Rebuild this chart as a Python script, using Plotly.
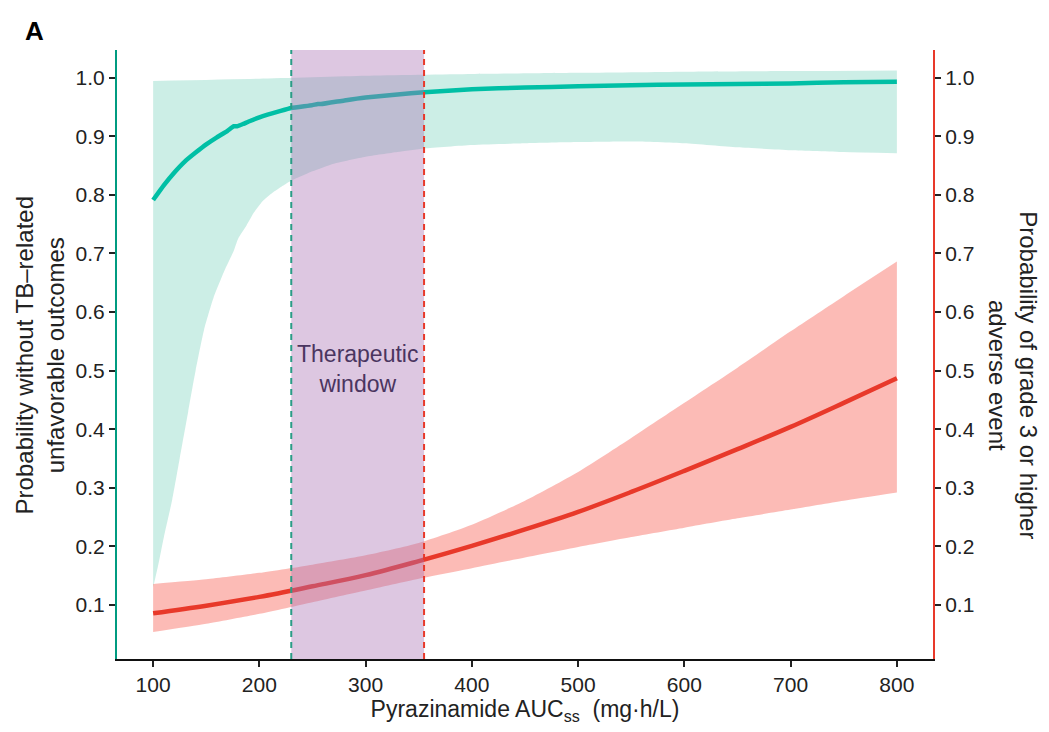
import plotly.graph_objects as go

# ---- data ----
teal_x = [100, 110, 120, 130, 140, 150, 160, 170, 176, 179, 185, 190, 200, 220, 230, 250, 255, 258,
          280, 300, 330, 355, 400, 450, 500, 550, 600, 650, 700, 750, 800]
teal_y = [0.791, 0.816, 0.838, 0.857, 0.872, 0.886, 0.898, 0.909, 0.917, 0.9168, 0.921, 0.925, 0.932,
          0.943, 0.948, 0.953, 0.955, 0.9547, 0.961, 0.966, 0.971, 0.975, 0.980, 0.983, 0.985, 0.987,
          0.988, 0.989, 0.990, 0.992, 0.993]

teal_up_x = [100, 200, 300, 400, 500, 600, 700, 800]
teal_up = [0.994, 0.998, 1.003, 1.006, 1.008, 1.010, 1.011, 1.012]

teal_lo_x = [100, 105, 110, 118, 125, 133, 140, 148, 157, 167, 176, 180, 188, 195, 203, 212, 221,
             229, 250, 270, 300, 330, 355, 400, 450, 500, 550, 600, 650, 700, 750, 800]
teal_lo = [0.13, 0.17, 0.215, 0.28, 0.35, 0.43, 0.50, 0.57, 0.625, 0.67, 0.705, 0.725, 0.748,
           0.77, 0.789, 0.803, 0.814, 0.823, 0.840, 0.853, 0.865, 0.873, 0.879, 0.885, 0.888, 0.890,
           0.891, 0.888, 0.881, 0.876, 0.873, 0.871]

red_x = [100, 150, 200, 250, 300, 350, 400, 450, 500, 550, 600, 650, 700, 750, 800]
red_y = [0.086, 0.099, 0.114, 0.132, 0.151, 0.175, 0.201, 0.229, 0.259, 0.293, 0.329, 0.366, 0.404,
         0.445, 0.487]
red_up = [0.136, 0.144, 0.155, 0.169, 0.185, 0.206, 0.237, 0.278, 0.327, 0.385, 0.445, 0.505, 0.567,
          0.627, 0.686]
red_lo = [0.054, 0.068, 0.085, 0.105, 0.125, 0.145, 0.163, 0.181, 0.199, 0.216, 0.232, 0.248, 0.263,
          0.278, 0.292]

window_lo = 230
window_hi = 355
x_ticks = [100, 200, 300, 400, 500, 600, 700, 800]
y_ticks = [0.1, 0.2, 0.3, 0.4, 0.5, 0.6, 0.7, 0.8, 0.9, 1.0]

TEAL = "#00BFA5"
TEAL_AX = "#009B80"
RED = "#E8392A"
FONT = "Liberation Sans, Arial, sans-serif"

fig = go.Figure()

# teal band (lower edge, then upper edge filled down to it)
fig.add_trace(go.Scatter(x=teal_lo_x, y=teal_lo, mode="lines",
                         line=dict(width=0, shape="spline", smoothing=0.5),
                         showlegend=False, hoverinfo="skip"))
fig.add_trace(go.Scatter(x=teal_up_x, y=teal_up, mode="lines", fill="tonexty",
                         fillcolor="rgba(0,170,130,0.20)",
                         line=dict(width=0, shape="spline", smoothing=0.5),
                         showlegend=False, hoverinfo="skip"))
# red band
fig.add_trace(go.Scatter(x=red_x, y=red_lo, yaxis="y2", mode="lines",
                         line=dict(width=0, shape="spline", smoothing=0.6),
                         showlegend=False, hoverinfo="skip"))
fig.add_trace(go.Scatter(x=red_x, y=red_up, yaxis="y2", mode="lines", fill="tonexty",
                         fillcolor="rgba(250,120,110,0.50)",
                         line=dict(width=0, shape="spline", smoothing=0.6),
                         showlegend=False, hoverinfo="skip"))
# lines
fig.add_trace(go.Scatter(x=teal_x, y=teal_y, mode="lines",
                         line=dict(color=TEAL, width=4.5, shape="spline", smoothing=0.4),
                         showlegend=False))
fig.add_trace(go.Scatter(x=red_x, y=red_y, mode="lines", yaxis="y2",
                         line=dict(color=RED, width=4.5, shape="spline"),
                         showlegend=False))

# therapeutic window
fig.add_shape(type="rect", xref="x", yref="paper", x0=window_lo, x1=window_hi, y0=0, y1=1,
              fillcolor="rgba(170,115,180,0.40)", line=dict(width=0), layer="above")
fig.add_shape(type="line", xref="x", yref="paper", x0=window_lo, x1=window_lo, y0=0, y1=1,
              line=dict(color="#2A9D86", width=2, dash="6px,5px"), layer="above")
fig.add_shape(type="line", xref="x", yref="paper", x0=window_hi, x1=window_hi, y0=0, y1=1,
              line=dict(color=RED, width=2, dash="6px,5px"), layer="above")

fig.add_annotation(x=(window_lo + window_hi) / 2, y=0.503, xref="x", yref="y",
                   text="Therapeutic<br>window", showarrow=False,
                   font=dict(family=FONT, size=23, color="#4A3560"), align="center")

fig.add_annotation(x=-0.1005, y=1.031, xref="paper", yref="paper", text="<b>A</b>",
                   showarrow=False, font=dict(family=FONT, size=26, color="black"),
                   xanchor="center", yanchor="middle")

fig.add_annotation(x=-0.094, y=0.499, xref="paper", yref="paper",
                   text="Probability without TB\u2013related<br>unfavorable outcomes",
                   textangle=-90, showarrow=False, font=dict(family=FONT, size=24, color="#222"),
                   xanchor="center", yanchor="middle", align="center")
fig.add_annotation(x=1.098, y=0.466, xref="paper", yref="paper",
                   text="Probability of grade 3 or higher<br>adverse event",
                   textangle=90, showarrow=False, font=dict(family=FONT, size=24, color="#222"),
                   xanchor="center", yanchor="middle", align="center")

tickfont = dict(family=FONT, size=21, color="#222")
fig.update_layout(
    width=1049, height=732,
    margin=dict(l=117, r=116, t=50, b=73),
    paper_bgcolor="white", plot_bgcolor="white",
    xaxis=dict(range=[66, 834], tickvals=x_ticks, ticks="outside", ticklen=6, tickwidth=1.5,
               tickcolor="#222", showline=True, linecolor="#111", linewidth=2, showgrid=False,
               zeroline=False, tickfont=tickfont,
               title=dict(text="Pyrazinamide AUC<sub>ss</sub>  (mg\u00b7h/L)",
                          font=dict(family=FONT, size=23, color="#222"), standoff=6)),
    yaxis=dict(range=[0.008, 1.047], tickvals=y_ticks, tickformat=".1f", ticks="outside",
               ticklen=6, tickwidth=1.5, tickcolor="#222", showline=True, linecolor=TEAL_AX,
               linewidth=2, showgrid=False, zeroline=False, tickfont=tickfont),
    yaxis2=dict(range=[0.008, 1.047], tickvals=y_ticks, tickformat=".1f", ticks="outside",
                ticklen=6, tickwidth=1.5, tickcolor="#222", showline=True, linecolor=RED,
                linewidth=2, showgrid=False, zeroline=False, tickfont=tickfont,
                overlaying="y", side="right"),
    showlegend=False,
)

fig.write_html("out.html")
